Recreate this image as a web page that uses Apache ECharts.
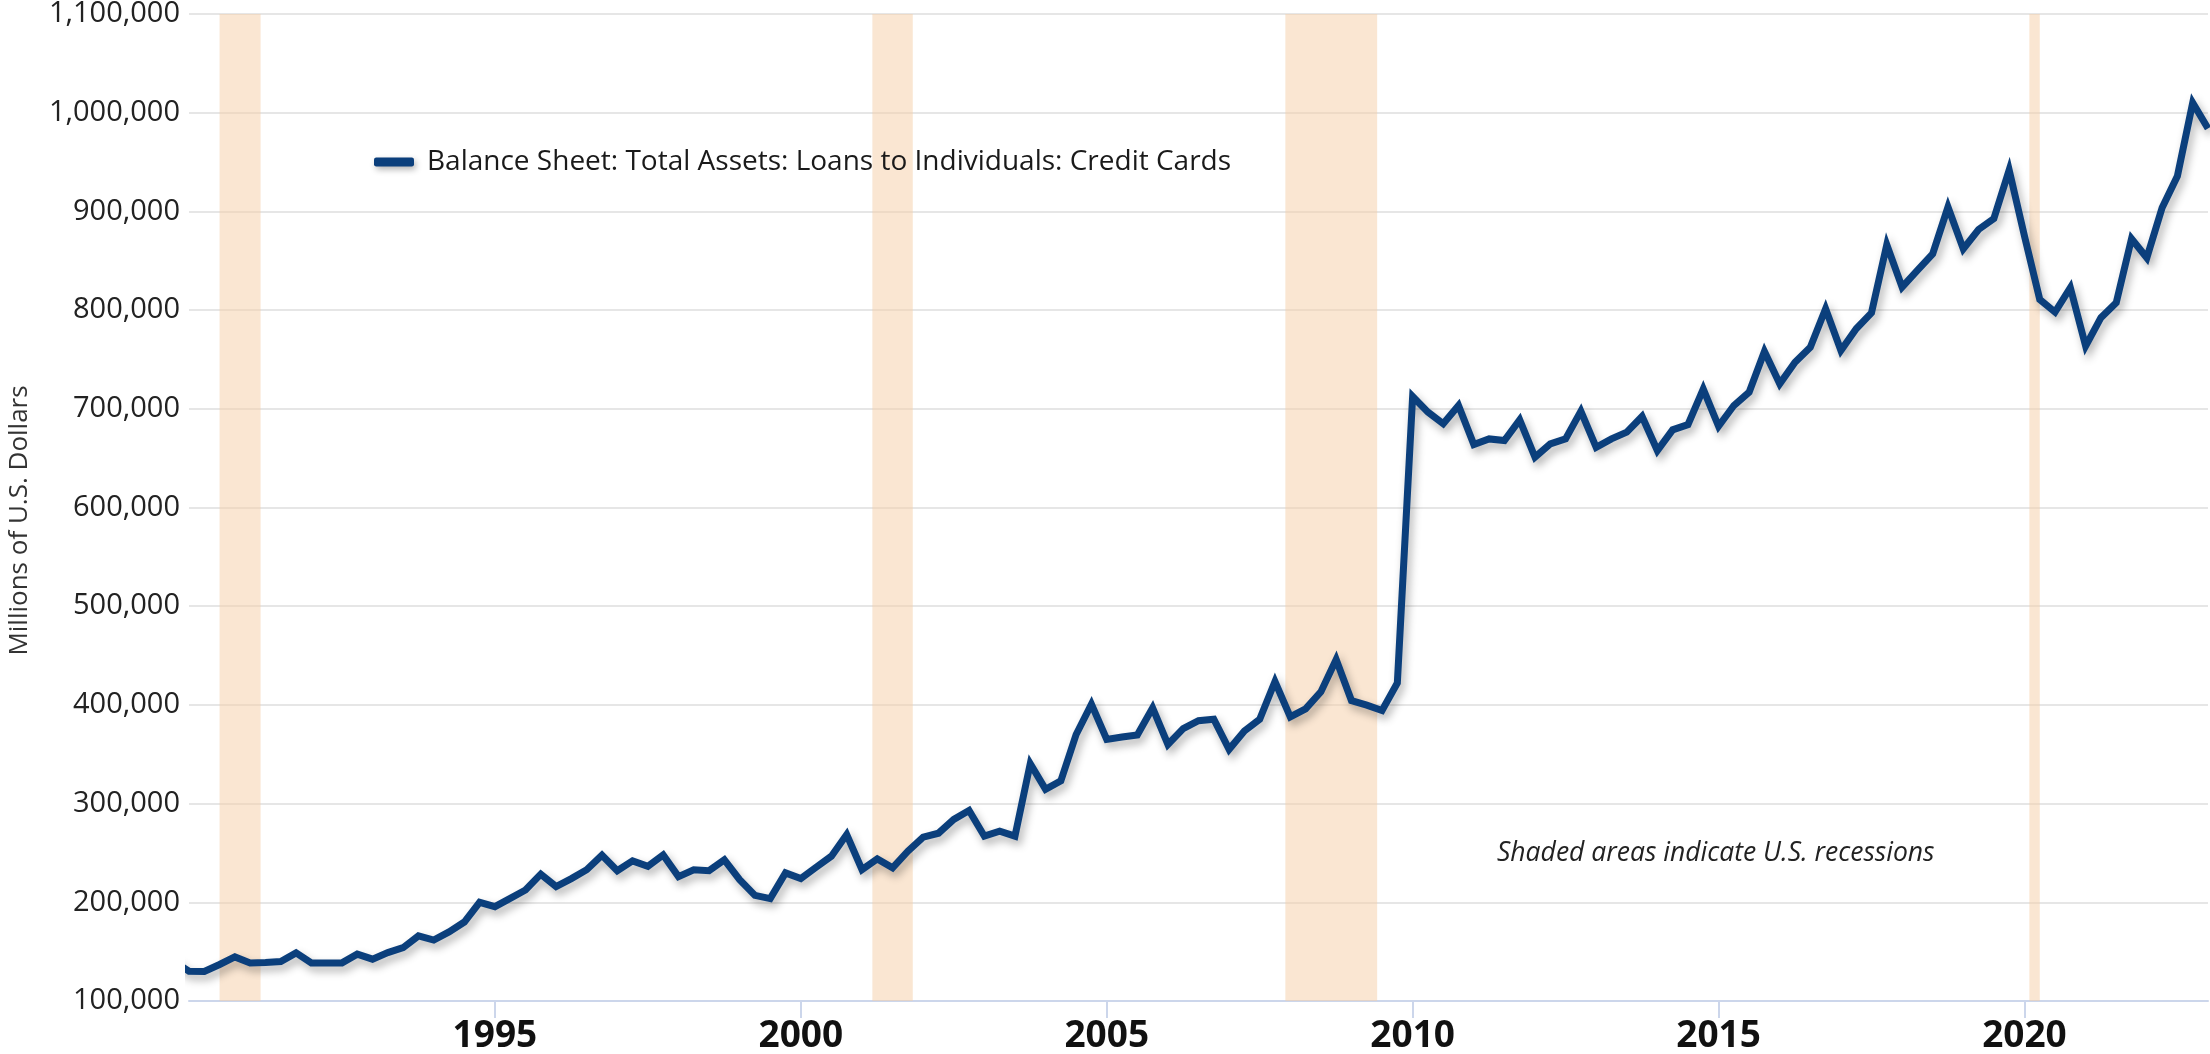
<!DOCTYPE html>
<html>
<head>
<meta charset="utf-8">
<script src="https://cdn.jsdelivr.net/npm/echarts@6/dist/echarts.min.js"></script>
<style>
    html, body { margin: 0; padding: 0; background: #fff; }
    #main { width: 2210px; height: 1054px; }
</style>
</head>
<body>
<div id="main"></div>
<script>
// quarterly series, first value is 1989 Q4
var firstYear = 1989;
var firstQuarter = 4;
var seriesName = 'Balance Sheet: Total Assets: Loans to Individuals: Credit Cards';

var values = [
    140000,
    130200, 130000, 137000, 144700,
    138600, 139000, 140000, 148800,
    138600, 138600, 138600, 147500,
    142400, 149000, 154000, 166000,
    161700, 170000, 180000, 200000,
    195600, 204000, 212500, 228500,
    216000, 224000, 233000, 247700,
    232000, 242000, 236500, 248000,
    226000, 233000, 232000, 243000,
    223000, 207000, 203700, 229800,
    224000, 235500, 246700, 268700,
    233000, 244000, 235000, 251800,
    266000, 270000, 284000, 293000,
    267000, 272000, 267000, 340500,
    314500, 323000, 370000, 400700,
    365000, 367500, 369600, 397000,
    360000, 376000, 384000, 385500,
    355000, 373600, 385500, 423700,
    387800, 396000, 413200, 446000,
    404400, 399700, 394300, 422300,
    712500, 696600, 684800, 703400,
    663800, 669500, 667800, 688800,
    650900, 664400, 669500, 697600,
    661000, 669500, 676300, 692200,
    657700, 678700, 684000, 720000,
    682300, 703300, 716800, 758000,
    725300, 747200, 762400, 801300,
    759000, 781000, 797200, 866200,
    823300, 840200, 857000, 904400,
    862000, 881700, 892800, 942000,
    875000, 810800, 798000, 822700,
    763500, 792300, 807500, 872300,
    853000, 903700, 935800, 1010000,
    984000
];

// recessions as decimal years
var recessionStart = [1990.5, 2001.17, 2007.92, 2020.08];
var recessionEnd = [1991.17, 2001.83, 2009.42, 2020.25];

var xLabelYears = [1995, 2000, 2005, 2010, 2015, 2020];

var myChart = echarts.init(document.getElementById('main'), null, { renderer: 'canvas' });

var lineData = values.map(function(v, i) {
    var q = firstQuarter - 1 + i;
    return [firstYear + q / 4, v];
});

var bands = recessionStart.map(function(s, i) {
    return [{ xAxis: s }, { xAxis: recessionEnd[i] }];
});

var textFont = '"Open Sans", sans-serif';

var option = {
    animation: false,
    backgroundColor: '#ffffff',
    grid: { left: 189, right: 2, top: 14, bottom: 53, outerBoundsMode: 'none', containLabel: false },
    legend: {
        left: 369,
        top: 143,
        icon: 'roundRect',
        itemWidth: 40,
        itemHeight: 9,
        itemGap: 20,
        itemStyle: {
            color: '#0b3f7c',
            shadowColor: 'rgba(0,0,0,0.3)',
            shadowBlur: 6,
            shadowOffsetX: 2,
            shadowOffsetY: 3
        },
        textStyle: {
            fontFamily: textFont,
            fontSize: 28,
            color: '#1a1a1a',
            padding: [0, 0, 0, 8]
        },
        data: [seriesName]
    },
    xAxis: {
        type: 'value',
        min: 1990,
        max: 2023,
        interval: 5,
        splitLine: { show: false },
        axisLine: { lineStyle: { color: '#ccd6eb', width: 2 } },
        axisTick: {
            customValues: xLabelYears,
            length: 17,
            lineStyle: { color: '#ccd6eb', width: 2 }
        },
        axisLabel: {
            customValues: xLabelYears,
            margin: 17,
            fontFamily: textFont,
            fontWeight: 'bold',
            fontSize: 37,
            color: '#111',
            formatter: function(v) { return String(v); }
        }
    },
    yAxis: {
        type: 'value',
        min: 100000,
        max: 1100000,
        interval: 100000,
        name: 'Millions of U.S. Dollars',
        nameLocation: 'middle',
        nameGap: 156,
        nameRotate: 90,
        nameTextStyle: {
            fontFamily: textFont,
            fontSize: 26,
            color: '#333',
            padding: [0, 26, 0, 0]
        },
        axisLine: { show: false },
        axisTick: { show: false },
        splitLine: { lineStyle: { color: '#e6e6e6', width: 2 } },
        axisLabel: {
            margin: 9,
            fontFamily: textFont,
            fontSize: 29,
            color: '#222',
            formatter: function(v) { return v.toLocaleString('en-US'); }
        }
    },
    graphic: [{
        type: 'text',
        left: 1497,
        top: 840,
        style: {
            text: 'Shaded areas indicate U.S. recessions',
            fontFamily: textFont,
            fontStyle: 'italic',
            fontSize: 26.5,
            fill: '#222'
        }
    }],
    series: [{
        name: seriesName,
        type: 'line',
        data: lineData,
        showSymbol: false,
        symbol: 'none',
        clip: false,
        z: 3,
        lineStyle: {
            color: '#0b3f7c',
            width: 7,
            join: 'miter',
            miterLimit: 10,
            shadowColor: 'rgba(0,0,0,0.3)',
            shadowBlur: 8,
            shadowOffsetX: 3,
            shadowOffsetY: 5
        },
        itemStyle: { color: '#0b3f7c' },
        markArea: {
            silent: true,
            itemStyle: { color: 'rgba(246, 206, 166, 0.5)' },
            data: bands
        }
    }]
};

myChart.setOption(option);
</script>
</body>
</html>
